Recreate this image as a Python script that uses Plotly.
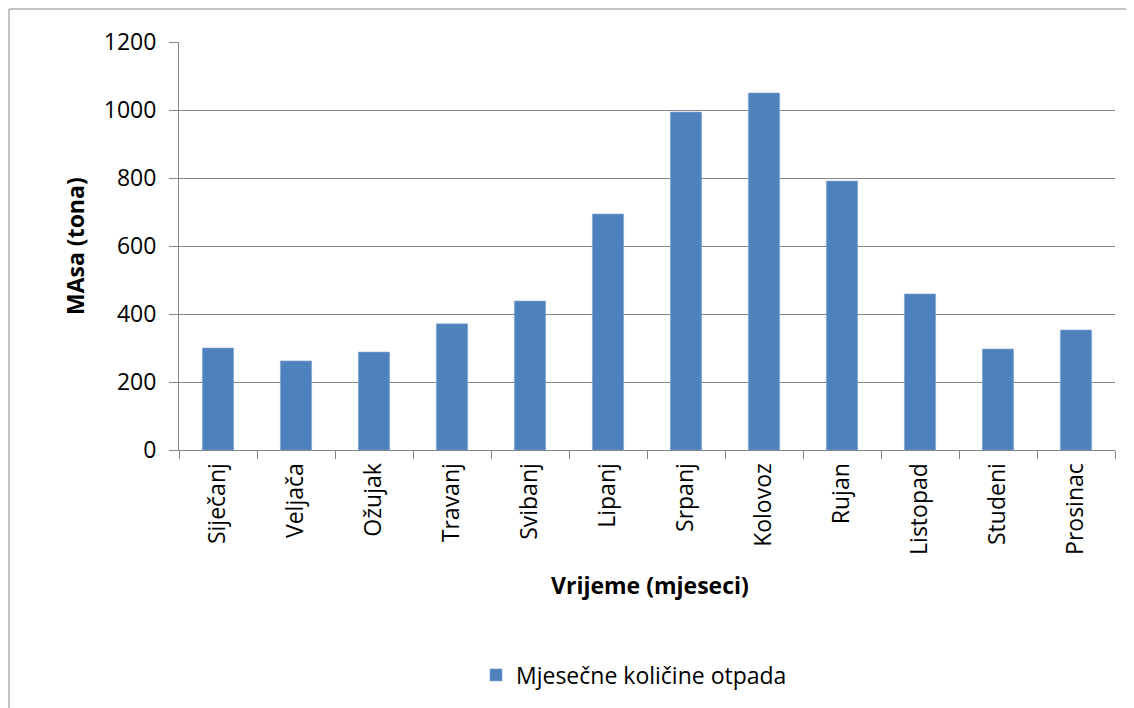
import plotly.graph_objects as go

months = ["Siječanj", "Veljača", "Ožujak", "Travanj", "Svibanj", "Lipanj",
          "Srpanj", "Kolovoz", "Rujan", "Listopad", "Studeni", "Prosinac"]
values = [300, 262, 288, 371, 438, 694, 994, 1050, 791, 459, 297, 353]
series_name = "Mjesečne količine otpada"
y_ticks = [0, 200, 400, 600, 800, 1000, 1200]

OFF = 8  # page body margin
W, H = 1134 - OFF, 708 - OFF
L, T = 179 - OFF, 42 - OFF
R = 1134 - 1115
B = 708 - 450
pw, ph = W - L - R, H - T - B

def px(x):
    return (x - OFF - L) / pw

def py(y):
    return (H - B - (y - OFF)) / ph

font = "Open Sans"

fig = go.Figure()
fig.add_trace(go.Bar(
    x=months, y=values, name=series_name,
    marker=dict(color="#4F81BD", line=dict(color="#7FA3D0", width=0.6)),
    width=0.4,
))

fig.update_layout(
    width=W, height=H,
    margin=dict(l=L, r=R, t=T, b=B),
    paper_bgcolor="white", plot_bgcolor="white",
    font=dict(family=font, size=23, color="black"),
    showlegend=True,
    legend=dict(orientation="h", x=px(634), xanchor="center", y=py(675), yanchor="middle",
                font=dict(size=23), itemwidth=30),
    xaxis=dict(
        type="category", tickangle=-90, showgrid=False,
        showline=True, linecolor="#868686", linewidth=1,
        ticks="outside", ticklen=8, tickcolor="#868686",
        tickson="boundaries", tickfont=dict(size=23), ticklabelstandoff=3,
    ),
    yaxis=dict(
        range=[0, 1200], tickvals=y_ticks, showgrid=True, gridcolor="#868686", gridwidth=1,
        showline=True, linecolor="#868686", linewidth=1,
        ticks="outside", ticklen=9, tickcolor="#868686",
        tickfont=dict(size=23), zeroline=False, ticklabelstandoff=8,
    ),
    shapes=[dict(type="rect", xref="paper", yref="paper",
                 x0=px(9), x1=px(1170), y0=py(760), y1=py(9),
                 line=dict(color="#888888", width=1), fillcolor="rgba(0,0,0,0)")],
    annotations=[
        dict(text="<b>Vrijeme (mjeseci)</b>", xref="paper", yref="paper",
             x=px(650), y=py(585), showarrow=False, font=dict(size=23),
             xanchor="center", yanchor="middle"),
        dict(text="<b>MAsa (tona)</b>", xref="paper", yref="paper",
             x=px(75), y=py(246), showarrow=False, font=dict(size=23), textangle=-90,
             xanchor="center", yanchor="middle"),
    ],
)

fig.write_html("out.html")
